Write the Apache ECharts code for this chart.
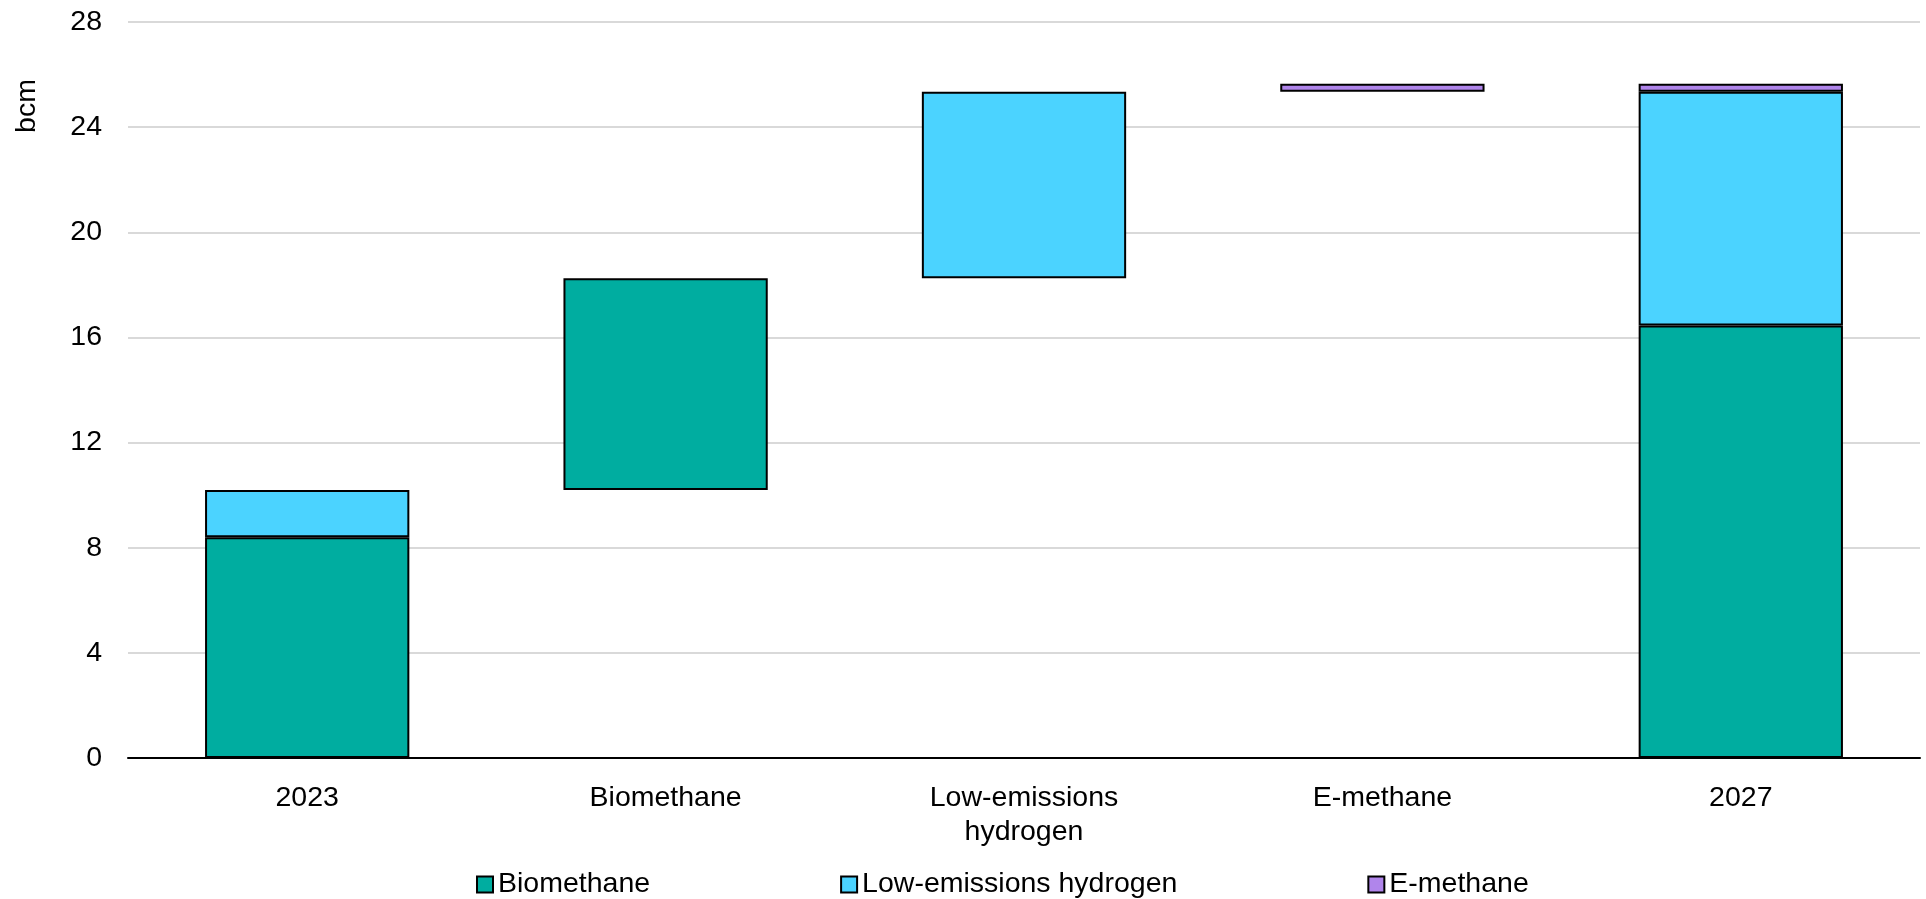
<!DOCTYPE html>
<html>
<head>
<meta charset="utf-8">
<script src="https://cdn.jsdelivr.net/npm/echarts@6/dist/echarts.min.js"></script>
<style>
  html, body { margin: 0; padding: 0; background: #ffffff; }
  #chart { width: 1926px; height: 899px; }
</style>
</head>
<body>
<div id="chart"></div>
<script>
// ---- data ----
const categories = ['2023', 'Biomethane', 'Low-emissions\nhydrogen', 'E-methane', '2027'];
const seriesNames = ['Biomethane', 'Low-emissions hydrogen', 'E-methane'];
// visible segment sizes per category (null = no segment)
const biomethane = [8.4, 8.05, null, null, 16.45];
const hydrogen   = [1.8, null, 7.1, null, 8.9];
const emethane   = [null, null, null, 0.3, 0.3];
const yTicks = [0, 4, 8, 12, 16, 20, 24, 28];

// invisible base for the waterfall steps: running total of previous steps
const v = x => (x == null ? 0 : x);
const start = v(biomethane[0]) + v(hydrogen[0]) + v(emethane[0]);
const base = [null,
  start,
  start + v(biomethane[1]),
  start + v(biomethane[1]) + v(hydrogen[2]),
  null];

const colors = ['#00ADA0', '#4BD3FF', '#B085EB'];
const FONT = 'Liberation Sans, Arial, sans-serif';
const FS = 28.5;

const chart = echarts.init(document.getElementById('chart'), null, { renderer: 'canvas' });

function seg(name, data, color) {
  return {
    name: name, type: 'bar', stack: 'w', data: data,
    barWidth: '57%',
    itemStyle: { color: color, borderColor: '#000000', borderWidth: 2 },
    emphasis: { disabled: true }
  };
}

chart.setOption({
  animation: false,
  textStyle: { fontFamily: FONT },
  grid: { left: 128, right: 6, top: 22, bottom: 141, containLabel: false },
  legend: {
    data: seriesNames,
    left: 471, top: 865,
    itemWidth: 16, itemHeight: 16, itemGap: 190,
    icon: 'rect',
    textStyle: { fontSize: FS, color: '#000000', fontFamily: FONT },
    selectedMode: false
  },
  graphic: [{
    type: 'text',
    x: 27, y: 106,
    rotation: Math.PI / 2,
    style: { text: 'bcm', fontSize: FS, fontFamily: FONT, fill: '#000000', align: 'center', verticalAlign: 'middle' }
  }],
  xAxis: {
    type: 'category',
    data: categories,
    axisLine: { lineStyle: { color: '#000000', width: 2 } },
    axisTick: { show: false },
    axisLabel: { fontSize: FS, color: '#000000', fontFamily: FONT, margin: 23, lineHeight: 34, interval: 0 }
  },
  yAxis: {
    type: 'value',
    min: yTicks[0], max: yTicks[yTicks.length - 1], interval: 4,
    axisLine: { show: false },
    axisTick: { show: false },
    splitLine: { lineStyle: { color: '#D9D9D9', width: 2 } },
    axisLabel: { fontSize: FS, color: '#000000', fontFamily: FONT, margin: 26 }
  },
  series: [
    {
      name: 'base', type: 'bar', stack: 'w', data: base, barWidth: '57%',
      itemStyle: { color: 'rgba(0,0,0,0)', borderWidth: 0 },
      emphasis: { disabled: true }, silent: true
    },
    seg(seriesNames[0], biomethane, colors[0]),
    seg(seriesNames[1], hydrogen, colors[1]),
    seg(seriesNames[2], emethane, colors[2])
  ]
});
</script>
</body>
</html>
